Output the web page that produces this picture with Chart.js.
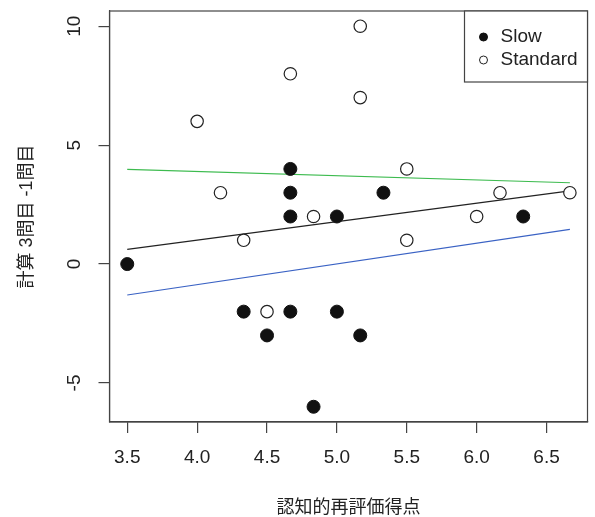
<!DOCTYPE html>
<html>
<head>
<meta charset="utf-8">
<script src="https://cdn.jsdelivr.net/npm/chart.js@4.4.1/dist/chart.umd.min.js"></script>
<style>
  html, body { margin: 0; padding: 0; background: #fff; }
  #wrap { width: 595px; height: 517px; }
</style>
</head>
<body>
<div id="wrap"><canvas id="myChart" width="595" height="517"></canvas></div>
<script>
// scores and differences per group
const slowX = [3.5, 4.333, 4.5, 4.667, 4.667, 4.667, 4.667, 4.833, 5.0, 5.0, 5.167, 5.333, 6.333];
const slowY = [0, -2, -3, 4, 3, 2, -2, -6, 2, -2, -3, 3, 2];
const standardX = [4.0, 4.167, 4.333, 4.5, 4.667, 4.833, 5.167, 5.167, 5.5, 5.5, 6.0, 6.167, 6.667];
const standardY = [6, 3, 1, -2, 8, 2, 10, 7, 4, 1, 2, 3, 3];

// fitted lines: overall, Standard, Slow (endpoints at x range)
const lineX = [3.5, 6.667];
const allFitY = [0.62, 3.08];
const standardFitY = [3.98, 3.42];
const slowFitY = [-1.30, 1.46];

const xTicks = [3.5, 4.0, 4.5, 5.0, 5.5, 6.0, 6.5];
const yTicks = [-5, 0, 5, 10];

const xLabel = '認知的再評価得点';
const yLabel = '計算 3問目 -1問目';
const groupNames = ['Slow', 'Standard'];

const pts = (xs, ys) => xs.map((x, i) => ({ x: x, y: ys[i] }));
const FONT = "'Liberation Sans', Arial, 'Noto Sans CJK JP', sans-serif";
const AXIS = '#444';

// frame round the plot region plus the boxed legend in the top-right corner
const framePlugin = {
    id: 'frame',
    afterDraw(chart) {
        const { ctx, chartArea: a } = chart;
        ctx.save();
        ctx.strokeStyle = AXIS;
        ctx.lineWidth = 1.2;
        ctx.strokeRect(a.left, a.top, a.right - a.left, a.bottom - a.top);

        const w = 123, h = 71;
        const lx = a.right - w, ly = a.top;
        ctx.fillStyle = '#fff';
        ctx.fillRect(lx, ly, w, h);
        ctx.strokeRect(lx, ly, w, h);
        ctx.font = '19px ' + FONT;
        ctx.textBaseline = 'middle';
        groupNames.forEach((name, i) => {
            const ds = chart.data.datasets[i];
            const cy = ly + 26 + i * 23;
            ctx.beginPath();
            ctx.arc(lx + 19, cy, 4, 0, Math.PI * 2);
            ctx.fillStyle = ds.backgroundColor;
            ctx.fill();
            ctx.lineWidth = 1;
            ctx.strokeStyle = ds.borderColor;
            ctx.stroke();
            ctx.fillStyle = '#222';
            ctx.fillText(name, lx + 36, cy);
        });
        ctx.restore();
    }
};

const ctx = document.getElementById('myChart').getContext('2d');
window.myChart = new Chart(ctx, {
    type: 'scatter',
    data: {
        datasets: [
            {
                label: groupNames[0],
                data: pts(slowX, slowY),
                backgroundColor: '#111',
                borderColor: '#111',
                borderWidth: 1,
                pointRadius: 6.5,
                order: 1
            },
            {
                label: groupNames[1],
                data: pts(standardX, standardY),
                backgroundColor: '#fff',
                borderColor: '#222',
                borderWidth: 1.2,
                pointRadius: 6.2,
                order: 1
            },
            {
                label: 'fit',
                type: 'line',
                data: pts(lineX, allFitY),
                borderColor: '#222',
                borderWidth: 1.2,
                pointRadius: 0,
                order: 2
            },
            {
                label: 'fitStandard',
                type: 'line',
                data: pts(lineX, standardFitY),
                borderColor: '#3dbb4f',
                borderWidth: 1.2,
                pointRadius: 0,
                order: 2
            },
            {
                label: 'fitSlow',
                type: 'line',
                data: pts(lineX, slowFitY),
                borderColor: '#3a62c4',
                borderWidth: 1.2,
                pointRadius: 0,
                order: 2
            }
        ]
    },
    options: {
        responsive: false,
        animation: false,
        layout: { padding: { left: 0, top: 11, right: 3, bottom: 0 } },
        plugins: {
            tooltip: { enabled: false },
            legend: { display: false }
        },
        scales: {
            x: {
                type: 'linear',
                min: 3.373,
                max: 6.793,
                afterBuildTicks: s => { s.ticks = xTicks.map(v => ({ value: v })); },
                afterFit: s => { s.height = 95; s.paddingLeft = 0; s.paddingRight = 0; },
                grid: { drawOnChartArea: false, drawTicks: true, tickLength: 11, color: AXIS, lineWidth: 1.2 },
                border: { color: AXIS, width: 1.2 },
                ticks: {
                    color: '#222',
                    font: { family: FONT, size: 19 },
                    padding: 13,
                    maxRotation: 0,
                    callback: v => v.toFixed(1)
                },
                title: {
                    display: true,
                    text: xLabel,
                    color: '#222',
                    font: { family: FONT, size: 18 },
                    padding: { top: 0, bottom: -2 }
                }
            },
            y: {
                type: 'linear',
                min: -6.64,
                max: 10.64,
                afterBuildTicks: s => { s.ticks = yTicks.map(v => ({ value: v })); },
                afterFit: s => { s.width = 109.5; s.paddingTop = 0; s.paddingBottom = 0; },
                grid: { drawOnChartArea: false, drawTicks: true, tickLength: 11, color: AXIS, lineWidth: 1.2 },
                border: { color: AXIS, width: 1.2 },
                ticks: {
                    color: '#222',
                    font: { family: FONT, size: 19 },
                    padding: 13,
                    minRotation: 90,
                    maxRotation: 90,
                    crossAlign: 'center'
                },
                title: {
                    display: true,
                    text: yLabel,
                    color: '#222',
                    font: { family: FONT, size: 18 },
                    padding: { top: 16, bottom: 0 }
                }
            }
        }
    },
    plugins: [framePlugin]
});
</script>
</body>
</html>
